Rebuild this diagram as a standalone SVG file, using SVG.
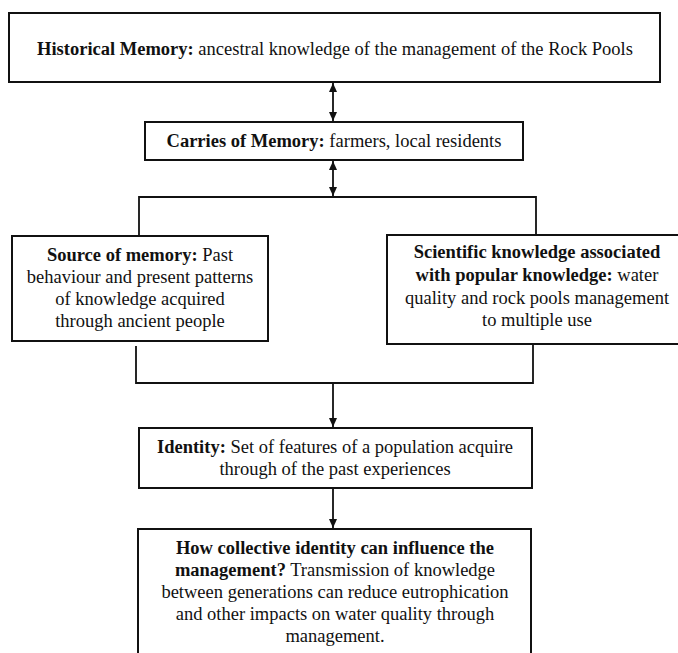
<svg xmlns="http://www.w3.org/2000/svg" width="678" height="653" viewBox="0 0 678 653" font-family="'Liberation Serif', Tinos, 'Times New Roman', Times, 'DejaVu Serif', serif">
<defs>
<style>
.box{fill:#fff;stroke:#111;stroke-width:2}
.ln{fill:none;stroke:#111;stroke-width:1.8}
text{font-family:'Liberation Serif',Tinos,'Times New Roman',Times,'DejaVu Serif',serif;font-size:18.5px;fill:#111;text-anchor:middle}
.b{font-weight:bold}
</style>
<marker id="ah" markerWidth="10" markerHeight="10" refX="9" refY="5" orient="auto-start-reverse" markerUnits="userSpaceOnUse">
<path d="M0,1 L9,5 L0,9 Z" fill="#111"/>
</marker>
</defs>
<rect width="678" height="653" fill="#fff"/>
<g id="historical">
<rect class="box" x="9" y="13" width="651" height="69"/>
<text x="335" y="55"><tspan class="b">Historical Memory:</tspan> ancestral knowledge of the management of the Rock Pools</text>
</g>
<g id="carries">
<rect class="box" x="145" y="122" width="378" height="38"/>
<text x="334" y="147"><tspan class="b">Carries of Memory:</tspan> farmers, local residents</text>
</g>
<g id="source">
<rect class="box" x="12" y="236" width="256" height="105"/>
<text x="140" y="261"><tspan class="b">Source of memory:</tspan> Past</text>
<text x="140" y="283">behaviour and present patterns</text>
<text x="140" y="305">of knowledge acquired</text>
<text x="140" y="327">through ancient people</text>
</g>
<g id="scientific">
<rect class="box" x="387" y="235" width="300" height="109"/>
<text x="537" y="258" class="b">Scientific knowledge associated</text>
<text x="537" y="281"><tspan class="b">with popular knowledge:</tspan> water</text>
<text x="537" y="304">quality and rock pools management</text>
<text x="537" y="326">to multiple use</text>
</g>
<g id="identity">
<rect class="box" x="139" y="428" width="393" height="60"/>
<text x="335" y="453"><tspan class="b">Identity:</tspan> Set of features of a population acquire</text>
<text x="335" y="475">through of the past experiences</text>
</g>
<g id="collective">
<rect class="box" x="138" y="529" width="393" height="135"/>
<text x="335" y="554" class="b">How collective identity can influence the</text>
<text x="335" y="576"><tspan class="b">management?</tspan> Transmission of knowledge</text>
<text x="335" y="598">between generations can reduce eutrophication</text>
<text x="335" y="620">and other impacts on water quality through</text>
<text x="335" y="642">management.</text>
</g>
<g id="connectors">
<line class="ln" x1="333" y1="83" x2="333" y2="121" marker-start="url(#ah)" marker-end="url(#ah)"/>
<line class="ln" x1="333" y1="161" x2="333" y2="196" marker-start="url(#ah)" marker-end="url(#ah)"/>
<polyline class="ln" points="139,236 139,197 536,197 536,235"/>
<polyline class="ln" points="136,346 136,383 533,383 533,345"/>
<line class="ln" x1="333" y1="383" x2="333" y2="427" marker-end="url(#ah)"/>
<line class="ln" x1="333" y1="489" x2="333" y2="528" marker-end="url(#ah)"/>
</g>
</svg>
